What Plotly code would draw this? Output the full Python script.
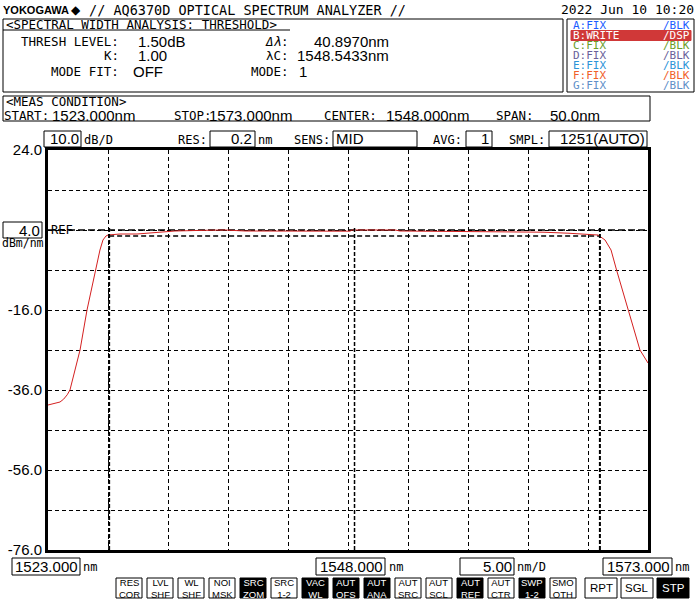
import plotly.graph_objects as go

# ---------------- data ----------------
wavelength_nm = [1523.0, 1523.5, 1524.0, 1524.3, 1524.6, 1524.83, 1525.25, 1525.67, 1526.25,
                 1526.79, 1527.0, 1527.33, 1527.58, 1527.83, 1528.0, 1529.0, 1530.42, 1531.33,
                 1532.17, 1533.58, 1535.67, 1537.75, 1539.42, 1544.0, 1548.17, 1548.33, 1551.92,
                 1552.33, 1556.5, 1562.33, 1564.25, 1566.33, 1568.42, 1568.83, 1569.42, 1569.92,
                 1570.38, 1570.62, 1571.33, 1571.83, 1572.33, 1573.0]
level_dbm = [-39.75, -39.4, -39.0, -38.3, -37.2, -36.0, -31.0, -26.0, -16.0,
             -8.5, -6.0, -1.0, 1.5, 2.5, 2.75, 3.0, 3.0, 3.25,
             3.5, 3.75, 3.9, 4.0, 3.75, 3.7, 3.7, 4.0, 4.0,
             3.75, 3.7, 3.6, 3.45, 3.2, 2.9, 2.75, 1.5, -1.0,
             -6.0, -8.5, -16.0, -21.0, -26.0, -29.25]

x_start, x_stop, x_div = 1523.0, 1573.0, 5.0
y_top, y_bottom, y_div = 24.0, -76.0, 10.0
y_tick_vals = [24, 14, 4, -6, -16, -26, -36, -46, -56, -66, -76]
y_tick_text = ["24.0", "", "", "", "-16.0", "", "-36.0", "", "-56.0", "", "-76.0"]

peak_dbm = 4.0
thresh_db = 1.50
delta_lambda = 40.8970
lambda_c = 1548.5433

trace_modes = ["A:FIX", "B:WRITE", "C:FIX", "D:FIX", "E:FIX", "F:FIX", "G:FIX"]
trace_disp = ["/BLK", "/DSP", "/BLK", "/BLK", "/BLK", "/BLK", "/BLK"]
trace_colors = ["#1a5cff", "#ffffff", "#6b9e2a", "#6a5f9a", "#2d93d8", "#f0602a", "#5f8fc8"]

soft_top = ["RES", "LVL", "WL", "NOI", "SRC", "SRC", "VAC", "AUT", "AUT", "AUT", "AUT", "AUT", "AUT", "SWP", "SMO"]
soft_bot = ["COR", "SHF", "SHF", "MSK", "ZOM", "1-2", "WL", "OFS", "ANA", "SRC", "SCL", "REF", "CTR", "1-2", "OTH"]
soft_inv = [False, False, False, False, True, False, True, True, True, False, False, True, False, True, False]
sweep_keys = ["RPT", "SGL", "STP"]
sweep_inv = [False, False, True]

# ---------------- geometry helpers ----------------
W, H = 700, 600
L, R, T, B = 48, 648, 150, 550
MONO = "DejaVu Sans Mono"
SANS = "Liberation Sans"
NUM = "Liberation Sans"
NS = 15

def fx(x):
    return (x - L) / (R - L)

def fy(y):
    return (B - y) / (B - T)

annotations = []
shapes = []

def text(x, y, s, size=12, color="black", anchor="left", family=MONO, bold=False):
    if bold:
        s = "<b>" + s + "</b>"
    annotations.append(dict(x=fx(x), y=fy(y), xref="paper", yref="paper", text=s,
                            showarrow=False, xanchor=anchor, yanchor="middle", borderpad=0,
                            font=dict(family=family, size=size, color=color)))

def num(x, y, s, anchor="left", size=NS):
    text(x, y, s, size=size, anchor=anchor, family=NUM)

def rect(x0, y0, x1, y1, color="black", fill="rgba(0,0,0,0)", width=1):
    shapes.append(dict(type="rect", xref="paper", yref="paper", x0=fx(x0), x1=fx(x1),
                       y0=fy(y1), y1=fy(y0), line=dict(color=color, width=width),
                       fillcolor=fill, layer="above"))

def pline(x0, y0, x1, y1, color="black", width=1, dash="solid"):
    shapes.append(dict(type="line", xref="paper", yref="paper", x0=fx(x0), x1=fx(x1),
                       y0=fy(y0), y1=fy(y1), line=dict(color=color, width=width, dash=dash),
                       layer="above"))

# ---------------- header ----------------
text(2, 10, "YOKOGAWA", size=11, family=SANS, bold=True)
text(70, 10, "◆", size=12, family=SANS)
text(88, 10, "// AQ6370D OPTICAL SPECTRUM ANALYZER //", size=13.5)
text(695, 10, "2022 Jun 10 10:20", size=13, anchor="right")

# analysis box
rect(3, 19, 563, 92)
pline(3, 30, 290, 30)
text(5, 24.5, "&lt;SPECTRAL WIDTH ANALYSIS: THRESHOLD&gt;", size=12.5)
text(120, 41, "THRESH LEVEL:", size=12.5, anchor="right")
num(137, 41, f"{thresh_db:.2f}dB")
text(120, 56, "K:", size=12.5, anchor="right")
num(137, 56, "1.00")
text(120, 71, "MODE FIT:", size=12.5, anchor="right")
num(132, 71, "OFF")
text(290, 41, "<i>Δλ</i>:", size=12.5, anchor="right")
num(390, 41, f"{delta_lambda:.4f}nm", anchor="right")
text(290, 56, "λC:", size=12.5, anchor="right")
num(390, 56, f"{lambda_c:.4f}nm", anchor="right")
text(290, 71, "MODE:", size=12.5, anchor="right")
num(298, 71, "1")

# trace legend box
rect(567, 19, 694, 92)
for i, (m, d, c) in enumerate(zip(trace_modes, trace_disp, trace_colors)):
    yy = 25.5 + i * 10
    if d == "/DSP":
        rect(571, yy - 5, 691, yy + 5, color="#d03838", fill="#d03838")
    text(572, yy, m, size=11, color=c)
    text(691, yy, d, size=11, color=c, anchor="right")

# meas condition box
rect(3, 96, 650, 121)
text(5, 102, "&lt;MEAS CONDITION&gt;", size=12.5)
text(3, 115, "START:", size=12.5)
num(51, 115, f"{x_start:.3f}nm")
text(173, 115, "STOP:", size=12.5)
num(208, 115, f"{x_stop:.3f}nm")
text(323, 115, "CENTER:", size=12.5)
num(385, 115, f"{(x_start + x_stop) / 2:.3f}nm")
text(495, 115, "SPAN:", size=12.5)
num(601, 115, f"{x_stop - x_start:.1f}nm", anchor="right")

# settings row
rect(44, 131, 81, 147)
num(80, 139, f"{y_div:.1f}", anchor="right")
text(83, 140, "dB/D", size=12)
text(208, 140, "RES:", size=12, anchor="right")
rect(210, 131, 255, 147)
num(253, 139, "0.2", anchor="right")
text(257, 140, "nm", size=12)
text(331, 140, "SENS:", size=12, anchor="right")
rect(333, 131, 417, 147)
num(335, 139, "MID")
text(463, 140, "AVG:", size=12, anchor="right")
rect(466, 131, 492, 147)
num(490, 139, "1", anchor="right")
text(546, 140, "SMPL:", size=12, anchor="right")
rect(549, 131, 647, 147)
num(646, 139, "1251(AUTO)", anchor="right")

# reference level box
rect(3, 222, 42, 238)
num(41, 230, f"{peak_dbm:.1f}", anchor="right")
text(50, 229.5, "REF", size=12)
text(1, 243, "dBm/nm", size=11.5)

# bottom wavelength row
rect(12, 558, 80, 575)
num(79, 566, f"{x_start:.3f}", anchor="right")
text(82, 567, "nm", size=12)
rect(316, 558, 385, 575)
num(384, 566, f"{(x_start + x_stop) / 2:.3f}", anchor="right")
text(388, 567, "nm", size=12)
rect(460, 558, 514, 575)
num(513, 566, f"{x_div:.2f}", anchor="right")
text(516, 567, "nm/D", size=12)
rect(603, 558, 672, 575)
num(671, 566, f"{x_stop:.3f}", anchor="right")
text(674, 567, "nm", size=12)

# soft keys
for i, (a, b, inv) in enumerate(zip(soft_top, soft_bot, soft_inv)):
    x0 = 116 + i * 31
    rect(x0, 578, x0 + 26, 598, fill="black" if inv else "white")
    col = "white" if inv else "black"
    text(x0 + 13, 588, a + "<br>" + b, size=9.5, color=col, anchor="center", family=SANS)
for i, (k, inv) in enumerate(zip(sweep_keys, sweep_inv)):
    x0 = 585 + i * 36
    rect(x0, 578, x0 + 32, 598, fill="black" if inv else "white")
    text(x0 + 16, 588, k, size=11.5, color="white" if inv else "black", anchor="center", family=SANS)

# ---------------- analysis markers (data coords) ----------------
lam1 = lambda_c - delta_lambda / 2
lam2 = lambda_c + delta_lambda / 2
for lam, w in [(lam1, 2), (lam2, 2), (lambda_c, 1.5)]:
    shapes.append(dict(type="line", xref="x", yref="paper", x0=lam, x1=lam, y0=0, y1=fy(228),
                       line=dict(color="black", width=w, dash="4px,2px"), layer="above"))
shapes.append(dict(type="line", xref="paper", yref="y", x0=0, x1=1, y0=peak_dbm, y1=peak_dbm,
                   line=dict(color="black", width=1.5, dash="7px,3px"), layer="below"))
shapes.append(dict(type="line", xref="x", yref="y", x0=lam1, x1=lam2,
                   y0=peak_dbm - thresh_db, y1=peak_dbm - thresh_db,
                   line=dict(color="black", width=1.5, dash="5px,3px"), layer="below"))

# ---------------- figure ----------------
fig = go.Figure()
fig.add_trace(go.Scatter(x=wavelength_nm, y=level_dbm, mode="lines",
                         line=dict(color="#d42020", width=1), hoverinfo="skip"))

fig.update_layout(
    width=W, height=H,
    margin=dict(l=L, r=W - R, t=T, b=H - B, pad=0, autoexpand=False),
    paper_bgcolor="white", plot_bgcolor="white",
    showlegend=False,
    annotations=annotations,
    shapes=shapes,
)
fig.update_xaxes(range=[x_start, x_stop], tickvals=[x_start + i * x_div for i in range(11)],
                 showticklabels=False, ticks="", showgrid=True, gridcolor="black", gridwidth=1,
                 griddash="4px,3px", showline=True, linecolor="black", linewidth=3, mirror=True,
                 zeroline=False, fixedrange=True, automargin=False)
fig.update_yaxes(range=[y_bottom, y_top], tickvals=y_tick_vals, ticktext=y_tick_text,
                 tickfont=dict(family=NUM, size=NS, color="black"), ticks="", ticklen=0,
                 showgrid=True, gridcolor="black", gridwidth=1, griddash="4px,3px",
                 showline=True, linecolor="black", linewidth=3, mirror=True,
                 zeroline=False, fixedrange=True, automargin=False)

fig.write_html("out.html", config={"displayModeBar": False},
               post_script="document.body.style.margin='0px';document.body.style.overflow='hidden';")
